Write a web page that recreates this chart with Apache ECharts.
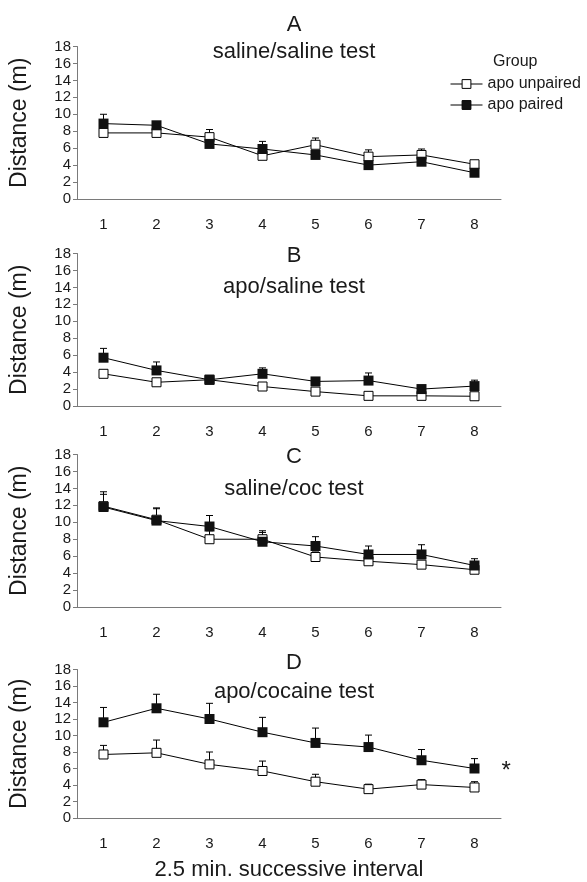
<!DOCTYPE html>
<html><head><meta charset="utf-8">
<script src="https://cdn.jsdelivr.net/npm/echarts@6/dist/echarts.min.js"></script>
<style>html,body{margin:0;padding:0;background:#fff}#c{width:587px;height:882px}</style>
</head><body><div id="c"></div>
<script>
// ---- data ----
const intervals = ['1','2','3','4','5','6','7','8'];
const panelLetters = ['A','B','C','D'];
const panelTitles = ['saline/saline test','apo/saline test','saline/coc test','apo/cocaine test'];
const seriesNames = ['apo unpaired','apo paired'];

const A_unpaired     = [7.8, 7.8, 7.3, 5.1, 6.4, 5.0, 5.2, 4.1];
const A_unpairedErr  = [0.4, 0.3, 0.9, 0.3, 0.8, 0.8, 0.7, 0.3];
const A_paired       = [8.9, 8.7, 6.5, 5.9, 5.2, 4.0, 4.4, 3.1];
const A_pairedErr    = [1.1, 0.4, 0.3, 0.9, 0.4, 0.3, 0.3, 0.3];

const B_unpaired     = [3.8, 2.8, 3.1, 2.3, 1.7, 1.2, 1.2, 1.15];
const B_unpairedErr  = [0.3, 0.3, 0.3, 0.3, 0.3, 0.2, 0.2, 0.2];
const B_paired       = [5.7, 4.2, 3.1, 3.8, 2.9, 3.0, 2.0, 2.35];
const B_pairedErr    = [1.1, 1.0, 0.3, 0.7, 0.4, 0.9, 0.3, 0.7];

const C_unpaired     = [11.9, 10.3, 8.0, 8.0, 5.9, 5.4, 5.0, 4.4];
const C_unpairedErr  = [1.7, 1.3, 1.0, 1.0, 0.6, 0.5, 0.5, 0.5];
const C_paired       = [11.8, 10.2, 9.5, 7.7, 7.2, 6.2, 6.2, 4.9];
const C_pairedErr    = [1.5, 1.5, 1.3, 1.1, 1.1, 1.0, 1.15, 0.8];

const D_unpaired     = [7.7, 7.9, 6.5, 5.7, 4.4, 3.5, 4.05, 3.7];
const D_unpairedErr  = [1.1, 1.55, 1.5, 1.2, 0.9, 0.6, 0.6, 0.7];
const D_paired       = [11.6, 13.3, 12.0, 10.4, 9.1, 8.6, 7.0, 6.0];
const D_pairedErr    = [1.8, 1.7, 1.9, 1.8, 1.8, 1.45, 1.3, 1.2];

const yMin = 0, yMax = 18, yStep = 2;
const xAxisTitle = '2.5 min. successive interval';
const yAxisTitle = 'Distance (m)';
const legendTitle = 'Group';
const sigMark = '*';

// ---- layout / style ----
const FONT = 'Arial, "Liberation Sans", Helvetica, sans-serif';
const TXT = '#1a1a1a';
const AXC = '#7a7a7a';
const gridTops = [46.5, 253.5, 454.5, 669.5];
const gridH = 152.5;
const gridLeft = 77, gridW = 424;
const letterTops = [9, 239.5, 441, 647];
const subTops = [35.5, 271, 472.5, 675.5];

const panels = [
  [A_unpaired, A_unpairedErr, A_paired, A_pairedErr],
  [B_unpaired, B_unpairedErr, B_paired, B_pairedErr],
  [C_unpaired, C_unpairedErr, C_paired, C_pairedErr],
  [D_unpaired, D_unpairedErr, D_paired, D_pairedErr]
];

function errData(vals, errs){ return vals.map((v,i)=>[i, v, v+errs[i]]); }
function errRender(params, api){
  const p0 = api.coord([api.value(0), api.value(1)]);
  const p1 = api.coord([api.value(0), api.value(2)]);
  const hw = 3.5;
  return {type:'group', children:[
    {type:'line', shape:{x1:p0[0],y1:p0[1],x2:p1[0],y2:p1[1]}, style:{stroke:'#000',lineWidth:1}},
    {type:'line', shape:{x1:p1[0]-hw,y1:p1[1],x2:p1[0]+hw,y2:p1[1]}, style:{stroke:'#000',lineWidth:1}}
  ]};
}

const grids=[], xAxes=[], yAxes=[], series=[], titles=[];
panels.forEach((p, k)=>{
  grids.push({left:gridLeft, width:gridW, top:gridTops[k], height:gridH, containLabel:false});
  xAxes.push({
    type:'category', gridIndex:k, data:intervals, boundaryGap:true,
    axisLine:{lineStyle:{color:AXC,width:1}},
    axisTick:{alignWithLabel:true, length:5, lineStyle:{color:AXC}},
    axisLabel:{color:TXT, fontSize:15, fontFamily:FONT, margin:18},
    splitLine:{show:false},
    name: k===3 ? xAxisTitle : '', nameLocation:'middle', nameGap:41,
    nameTextStyle:{color:TXT, fontSize:22, fontFamily:FONT}
  });
  yAxes.push({
    type:'value', gridIndex:k, min:yMin, max:yMax, interval:yStep,
    axisLine:{show:true, lineStyle:{color:AXC,width:1}},
    axisTick:{show:true, length:4, lineStyle:{color:AXC}},
    axisLabel:{color:TXT, fontSize:15, fontFamily:FONT, margin:6},
    splitLine:{show:false},
    name:yAxisTitle, nameLocation:'middle', nameGap:46,
    nameTextStyle:{color:TXT, fontSize:23, fontFamily:FONT}
  });
  titles.push({text:panelLetters[k], left:289, top:letterTops[k], textAlign:'center',
    textStyle:{color:TXT, fontSize:22, fontWeight:'normal', fontFamily:FONT}});
  titles.push({text:panelTitles[k], left:289, top:subTops[k], textAlign:'center',
    textStyle:{color:TXT, fontSize:22, fontWeight:'normal', fontFamily:FONT}});

  const [un, unE, pa, paE] = p;
  series.push({type:'custom', name:'err-u'+k, xAxisIndex:k, yAxisIndex:k, data:errData(un,unE),
    renderItem:errRender, z:1, silent:true, encode:{x:0,y:[1,2]}});
  series.push({type:'custom', name:'err-p'+k, xAxisIndex:k, yAxisIndex:k, data:errData(pa,paE),
    renderItem:errRender, z:1, silent:true, encode:{x:0,y:[1,2]}});
  series.push({type:'line', name:seriesNames[0], xAxisIndex:k, yAxisIndex:k, data:un,
    symbol:'rect', symbolSize:9, z:3,
    lineStyle:{color:'#000', width:1},
    itemStyle:{color:'#fff', borderColor:'#000', borderWidth:1}});
  const paData = pa.map((v,i)=> (k===3 && i===pa.length-1)
      ? {value:v, label:{show:true, formatter:sigMark, position:'right', distance:22,
          color:TXT, fontSize:24, fontFamily:FONT, offset:[0,3]}}
      : v);
  series.push({type:'line', name:seriesNames[1], xAxisIndex:k, yAxisIndex:k, data:paData,
    symbol:'rect', symbolSize:10, z:4,
    lineStyle:{color:'#000', width:1},
    itemStyle:{color:'#111', borderColor:'#111', borderWidth:0}});
});

titles.push({text:legendTitle, left:488, top:49, textStyle:{color:TXT, fontSize:16, fontWeight:'normal', fontFamily:FONT}});

const chart = echarts.init(document.getElementById('c'), null, {renderer:'canvas'});
chart.setOption({
  animation:false,
  backgroundColor:'#fff',
  title:titles,
  legend:{data:seriesNames, orient:'vertical', left:445, top:71, itemWidth:32, itemHeight:11, itemGap:5,
    textStyle:{color:TXT, fontSize:16, fontFamily:FONT},
    itemStyle:{borderWidth:1, borderColor:'#000'}, lineStyle:{width:1, color:'#000'}},
  grid:grids, xAxis:xAxes, yAxis:yAxes, series:series
});
</script></body></html>
